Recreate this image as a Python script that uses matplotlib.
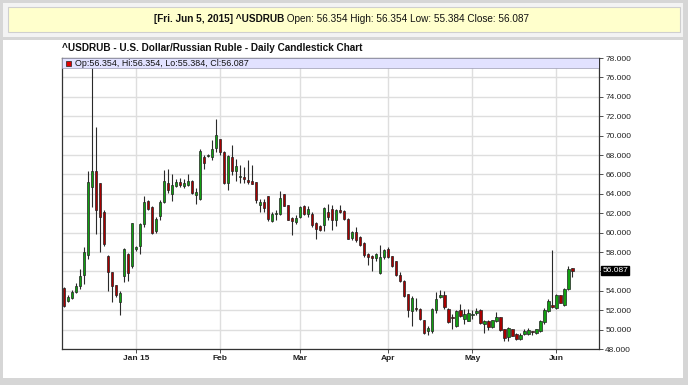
import numpy as np
import pandas as pd
import matplotlib
matplotlib.use('Agg')
import matplotlib.pyplot as plt
from matplotlib.patches import Rectangle
from matplotlib.transforms import blended_transform_factory

plt.rcParams['font.family'] = ['Liberation Sans', 'DejaVu Sans']

# trading days (holidays skipped by the data source)
holidays = ['2014-12-25', '2015-01-01', '2015-04-03']
days = pd.bdate_range('2014-12-05', '2015-06-05')
days = days[~days.isin(pd.to_datetime(holidays))]

opens = [54.3, 53.0, 53.3, 53.9, 54.5, 55.6, 57.7, 64.7, 66.4, 65.1,
         62.1, 57.6, 55.9, 54.6, 52.8, 55.5, 57.8, 56.6, 58.3, 58.6,
         60.9, 63.3, 62.6, 60.2, 61.7, 63.2, 65.1, 64.0, 64.8, 65.2,
         64.8, 64.95, 65.3, 63.9, 63.5, 67.8, 67.9, 67.8, 68.7, 69.6,
         68.3, 65.1, 67.8, 66.4, 65.7, 65.7, 65.4, 65.3, 65.2, 62.8,
         63.2, 63.75, 61.2, 61.9, 61.95, 64.0, 62.8, 61.55, 61.1, 61.6,
         62.7, 61.9, 61.95, 61.0, 60.65, 60.8, 62.1, 62.4, 61.3, 62.3,
         62.2, 61.45, 59.4, 60.1, 59.55, 58.96, 57.8, 57.6, 57.4, 55.8,
         57.5, 58.3, 57.55, 57.1, 55.6, 55.0, 53.7, 51.9, 52.15, 52.1,
         51.0, 49.9, 49.9, 52.0, 53.4, 53.6, 52.1, 51.3, 50.4, 52.0,
         51.1, 50.9, 51.5, 51.7, 52.0, 50.6, 50.9, 50.3, 50.9, 51.26,
         50.05, 49.2, 50.05, 49.54, 49.0, 49.5, 49.5, 49.8, 49.6, 49.9,
         50.75, 51.9, 52.55, 52.2, 53.6, 52.5, 54.2, 56.354]
highs = [54.4, 53.6, 54.1, 54.8, 56.2, 58.5, 66.4, 80.0, 70.9, 65.1,
         62.3, 57.7, 55.9, 54.6, 54.0, 58.4, 57.9, 61.0, 58.6, 61.0,
         63.8, 63.4, 62.7, 61.6, 63.4, 66.5, 66.6, 66.0, 65.5, 65.6,
         65.5, 66.0, 65.4, 64.6, 68.6, 68.0, 68.1, 69.5, 71.7, 69.6,
         68.4, 68.0, 69.0, 67.6, 67.0, 66.8, 67.5, 67.0, 65.2, 63.5,
         63.5, 63.8, 62.1, 62.3, 64.3, 64.0, 62.8, 61.6, 61.8, 62.7,
         62.8, 62.7, 62.1, 61.1, 60.75, 62.65, 63.0, 62.8, 62.4, 62.8,
         62.3, 61.5, 60.2, 60.6, 59.6, 59.0, 57.9, 57.7, 57.9, 58.75,
         58.3, 58.5, 57.6, 57.1, 55.9, 55.1, 53.7, 53.5, 53.3, 52.2,
         51.0, 50.4, 52.2, 53.9, 54.1, 54.0, 52.2, 51.6, 52.0, 52.65,
         52.1, 52.1, 52.0, 52.2, 52.1, 50.95, 50.95, 51.0, 51.8, 51.3,
         50.1, 50.3, 50.1, 49.6, 49.6, 50.1, 50.15, 49.9, 50.1, 51.0,
         52.2, 53.2, 58.2, 53.65, 53.6, 54.3, 56.6, 56.354]
lows = [52.3, 52.8, 53.2, 53.8, 54.2, 54.7, 57.3, 62.6, 59.9, 58.0,
        58.6, 54.0, 52.8, 53.4, 51.5, 54.9, 55.0, 56.3, 58.1, 57.8,
        60.6, 62.3, 59.9, 60.0, 61.3, 63.1, 64.1, 63.3, 64.7, 64.7,
        64.6, 64.8, 64.0, 62.9, 63.4, 66.6, 67.8, 67.5, 68.3, 68.0,
        65.0, 64.4, 65.9, 65.3, 65.1, 65.1, 65.0, 65.0, 63.1, 62.1,
        62.1, 61.2, 61.1, 61.3, 61.8, 62.7, 61.3, 59.8, 60.9, 61.5,
        61.8, 61.6, 60.6, 59.3, 60.2, 60.2, 61.3, 60.3, 60.7, 62.0,
        61.3, 59.3, 59.2, 59.0, 58.6, 57.5, 56.7, 56.0, 57.1, 55.75,
        57.3, 57.4, 56.5, 55.5, 54.9, 53.4, 51.3, 50.4, 51.9, 51.0,
        49.55, 49.4, 49.7, 51.7, 53.3, 52.1, 50.7, 50.1, 50.3, 51.3,
        50.6, 50.85, 51.1, 51.5, 50.6, 49.7, 50.0, 50.2, 50.8, 49.9,
        48.8, 48.85, 49.3, 48.9, 48.95, 49.4, 49.4, 49.4, 49.5, 49.8,
        50.6, 51.8, 52.2, 52.1, 52.7, 52.4, 54.1, 55.384]
closes = [52.4, 53.4, 53.9, 54.5, 55.5, 58.0, 65.2, 66.4, 62.3, 61.6,
          58.8, 55.9, 54.5, 53.6, 53.8, 58.3, 55.8, 61.0, 58.5, 60.9,
          63.2, 62.4, 60.0, 61.4, 63.2, 65.3, 64.4, 64.9, 65.2, 64.9,
          65.1, 65.3, 64.1, 64.2, 68.4, 67.2, 68.0, 68.6, 70.1, 68.3,
          65.1, 67.9, 66.4, 66.9, 65.8, 65.5, 65.2, 65.05, 63.4, 63.2,
          62.5, 61.4, 61.95, 62.0, 63.6, 62.75, 61.3, 61.2, 61.55, 62.65,
          61.9, 62.4, 60.75, 60.4, 60.3, 62.5, 61.6, 61.3, 62.3, 62.1,
          61.4, 59.35, 60.1, 59.2, 58.7, 57.65, 57.5, 57.4, 57.8, 57.5,
          58.2, 57.5, 56.6, 55.6, 54.96, 53.5, 52.0, 53.3, 52.1, 51.05,
          49.7, 50.2, 52.1, 53.2, 53.6, 52.3, 50.75, 51.2, 51.9, 51.4,
          51.6, 51.7, 51.55, 51.95, 50.65, 50.9, 50.3, 51.0, 51.3, 49.95,
          49.1, 50.15, 49.37, 49.02, 49.47, 49.9, 49.95, 49.75, 50.05, 50.9,
          52.0, 53.0, 52.3, 53.6, 52.75, 54.2, 56.27, 56.087]

y_ticks = np.arange(48, 79, 2)

W, H = 688, 385
fig = plt.figure(figsize=(W / 100, H / 100), dpi=100, facecolor='#d6d6d6')


def px_rect(x0, y0, x1, y1, **kw):
    # rectangle given in image pixel coords (origin top-left)
    r = Rectangle((x0 / W, 1 - y1 / H), (x1 - x0) / W, (y1 - y0) / H,
                  transform=fig.transFigure, **kw)
    fig.add_artist(r)


# background panels
px_rect(3, 3, 683, 37, facecolor='#f3f3f3', edgecolor='none', zorder=0)
px_rect(3, 40, 683, 378, facecolor='white', edgecolor='none', zorder=0)
px_rect(8, 7, 680, 32, facecolor='#ffffcc', edgecolor='#cfcfcf', lw=0.8, zorder=1)

last = len(days) - 1
head_bold = f"[{days[last].strftime('%a')}. {days[last].strftime('%b')} {days[last].day}, {days[last].year}] ^USDRUB"
head_rest = (f" Open: {opens[last]:.3f} High: {highs[last]:.3f}"
             f" Low: {lows[last]:.3f} Close: {closes[last]:.3f}")
fig.text(284 / W, 1 - 19.5 / H, head_bold, ha='right', va='center',
         fontsize=7.2, fontweight='bold', color='#111111')
fig.text(284 / W, 1 - 19.5 / H, head_rest, ha='left', va='center',
         fontsize=7.2, color='#111111')

fig.text(62 / W, 1 - 48 / H, '^USDRUB - U.S. Dollar/Russian Ruble - Daily Candlestick Chart',
         ha='left', va='center', fontsize=7.2, fontweight='bold', color='#111111')

ax = fig.add_axes([62 / W, 1 - 349 / H, 537 / W, 291 / H])
ax.set_facecolor('white')

x = np.arange(len(days))
o = np.array(opens)
c = np.array(closes)
up = c >= o
colors = np.where(up, '#11a011', '#a80000')

ax.vlines(x, lows, highs, color='#2a2a2a', lw=0.8, zorder=3)
body_lo = np.minimum(o, c)
body_h = np.maximum(np.abs(c - o), 0.08)
ax.bar(x, body_h, bottom=body_lo, width=0.68, color=colors,
       edgecolor='#222222', linewidth=0.5, zorder=4)

ax.set_xlim(-0.5, 133.7)
ax.set_ylim(48, 78)

# month ticks at first trading day
months = pd.Series(x, index=days)
first_idx = months.groupby([days.year, days.month]).min()
tick_pos, tick_lab = [], []
for (yr, mo), idx in first_idx.items():
    if yr == 2014:
        continue
    tick_pos.append(idx)
    tick_lab.append(days[idx].strftime('%b %y') if mo == 1 else days[idx].strftime('%b'))
ax.set_xticks(tick_pos)
ax.set_xticklabels(tick_lab, fontsize=6, fontweight='bold', color='#222222')

# the 56.000 label sits under the last-price tag
ax.yaxis.tick_right()
ax.set_yticks(y_ticks)
ax.set_yticklabels(['' if v == 56 else f'{v:.3f}' for v in y_ticks], fontsize=6, color='#222222')
ax.tick_params(axis='both', length=3, width=0.6, color='#333333', pad=1.5)

ax.grid(True, color='#dedede', lw=1.0, zorder=0)
ax.set_axisbelow(True)
for s in ax.spines.values():
    s.set_color('#333333')
    s.set_linewidth(0.9)

# legend strip at top of plot
ax.add_patch(Rectangle((0, 1 - 10 / 291), 1, 10 / 291, transform=ax.transAxes,
                       facecolor='#e2e2ff', edgecolor='#9a9ab0', lw=0.5, zorder=6))
ax.add_patch(Rectangle((4 / 537, 1 - 8 / 291), 5 / 537, 5 / 291, transform=ax.transAxes,
                       facecolor='#e00000', edgecolor='#222222', lw=0.5, zorder=7))
ax.text(13 / 537, 1 - 5 / 291,
        f'Op:{opens[last]:.3f}, Hi:{highs[last]:.3f}, Lo:{lows[last]:.3f}, Cl:{closes[last]:.3f}',
        transform=ax.transAxes, ha='left', va='center', fontsize=6.4, color='#111111', zorder=7)

# last price tag
tr = blended_transform_factory(ax.transAxes, ax.transData)
ax.text(1.006, closes[last], f'{closes[last]:.3f}', transform=tr, ha='left', va='center',
        fontsize=6, color='white', zorder=8, clip_on=False,
        bbox=dict(boxstyle='square,pad=0.15', facecolor='black', edgecolor='black'))

fig.savefig('out.png', dpi=100, facecolor=fig.get_facecolor())
